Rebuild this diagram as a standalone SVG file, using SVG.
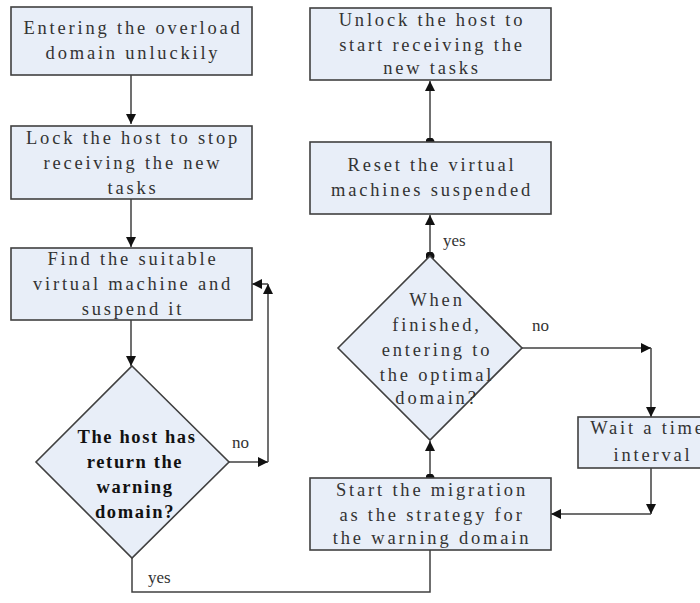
<svg xmlns="http://www.w3.org/2000/svg" width="700" height="603" viewBox="0 0 700 603">
  <style>
    .box { fill: #e8eef8; stroke: #404040; stroke-width: 1.6; }
    .lbl { font-family: "Liberation Serif", "DejaVu Serif", serif; font-size: 18.5px; letter-spacing: 2.8px; fill: #333; text-anchor: middle; }
    .bold { font-weight: bold; fill: #111; }
    .tag { font-family: "Liberation Serif", serif; font-size: 17px; fill: #333; }
    .wire { fill: none; stroke: #404040; stroke-width: 1.5; }
  </style>
  <defs>
    <marker id="arrow" viewBox="0 0 10 10" refX="10" refY="5" markerWidth="10" markerHeight="10" markerUnits="userSpaceOnUse" orient="auto">
      <path d="M0,0 L10,5 L0,10 z" fill="#111"/>
    </marker>
    <marker id="dot" viewBox="0 0 10 10" refX="5" refY="5" markerWidth="9" markerHeight="9" markerUnits="userSpaceOnUse">
      <circle cx="5" cy="5" r="5" fill="#111"/>
    </marker>
  </defs>

  <!-- connectors -->
  <g id="connectors">
    <path class="wire" d="M131,75 V124" marker-end="url(#arrow)"/>
    <path class="wire" d="M131,199 V247" marker-end="url(#arrow)"/>
    <path class="wire" d="M131,320 V366" marker-end="url(#arrow)"/>
    <!-- no: back to the search step -->
    <path class="wire" d="M229,462 H268" marker-end="url(#arrow)"/>
    <path class="wire" d="M268,462 V284" marker-end="url(#arrow)"/>
    <path class="wire" d="M268,284 H252" marker-end="url(#arrow)"/>
    <!-- yes: on to migration -->
    <path class="wire" d="M132,558 V592 H430 V550"/>
    <!-- migration to check -->
    <path class="wire" d="M430,478 V441" marker-start="url(#dot)" marker-end="url(#arrow)"/>
    <!-- check yes -->
    <path class="wire" d="M430,256 V215" marker-start="url(#dot)" marker-end="url(#arrow)"/>
    <!-- reset to unlock -->
    <path class="wire" d="M430,142 V81" marker-start="url(#dot)" marker-end="url(#arrow)"/>
    <!-- check no: wait loop -->
    <path class="wire" d="M522,348 H651" marker-end="url(#arrow)"/>
    <path class="wire" d="M651,348 V417" marker-end="url(#arrow)"/>
    <path class="wire" d="M651,468 V514" marker-end="url(#arrow)"/>
    <path class="wire" d="M651,514 H551" marker-end="url(#arrow)"/>
    <text class="tag" x="232" y="448">no</text>
    <text class="tag" x="148" y="583">yes</text>
    <text class="tag" x="443" y="246">yes</text>
    <text class="tag" x="532" y="331">no</text>
  </g>

  <g id="enter-overload">
    <rect class="box" x="11" y="7" width="241" height="68"/>
    <text class="lbl" x="133" y="34">Entering the overload</text>
    <text class="lbl" x="133" y="59">domain unluckily</text>
  </g>

  <g id="lock-host">
    <rect class="box" x="11" y="126" width="241" height="73"/>
    <text class="lbl" x="133" y="144">Lock the host to stop</text>
    <text class="lbl" x="133" y="169">receiving the new</text>
    <text class="lbl" x="133" y="194">tasks</text>
  </g>

  <g id="find-vm">
    <rect class="box" x="11" y="248" width="241" height="72"/>
    <text class="lbl" x="133" y="265">Find the suitable</text>
    <text class="lbl" x="133" y="290">virtual machine and</text>
    <text class="lbl" x="133" y="315">suspend it</text>
  </g>

  <g id="warning-check">
    <polygon class="box" points="132,366 229,462 132,558 36,462"/>
    <text class="lbl bold" x="137" y="443" style="letter-spacing:1.6px">The host has</text>
    <text class="lbl bold" x="135" y="468" style="letter-spacing:1.6px">return the</text>
    <text class="lbl bold" x="135" y="493" style="letter-spacing:1.6px">warning</text>
    <text class="lbl bold" x="135" y="518" style="letter-spacing:1.6px">domain?</text>
  </g>

  <g id="unlock-host">
    <rect class="box" x="310" y="8" width="241" height="72"/>
    <text class="lbl" x="432" y="26">Unlock the host to</text>
    <text class="lbl" x="432" y="51">start receiving the</text>
    <text class="lbl" x="432" y="74">new tasks</text>
  </g>

  <g id="reset-vms">
    <rect class="box" x="310" y="142" width="241" height="72"/>
    <text class="lbl" x="432" y="171">Reset the virtual</text>
    <text class="lbl" x="432" y="196">machines suspended</text>
  </g>

  <g id="optimal-check">
    <polygon class="box" points="430,256 522,348 430,440 338,348"/>
    <text class="lbl" x="437" y="306">When</text>
    <text class="lbl" x="437" y="331">finished,</text>
    <text class="lbl" x="437" y="356">entering to</text>
    <text class="lbl" x="437" y="381">the optimal</text>
    <text class="lbl" x="437" y="404">domain?</text>
  </g>

  <g id="wait-interval">
    <rect class="box" x="578" y="417" width="146" height="51"/>
    <text class="lbl" x="648" y="434">Wait a time</text>
    <text class="lbl" x="653" y="461">interval</text>
  </g>

  <g id="start-migration">
    <rect class="box" x="310" y="478" width="241" height="72"/>
    <text class="lbl" x="432" y="496">Start the migration</text>
    <text class="lbl" x="432" y="521">as the strategy for</text>
    <text class="lbl" x="432" y="544">the warning domain</text>
  </g>
</svg>
